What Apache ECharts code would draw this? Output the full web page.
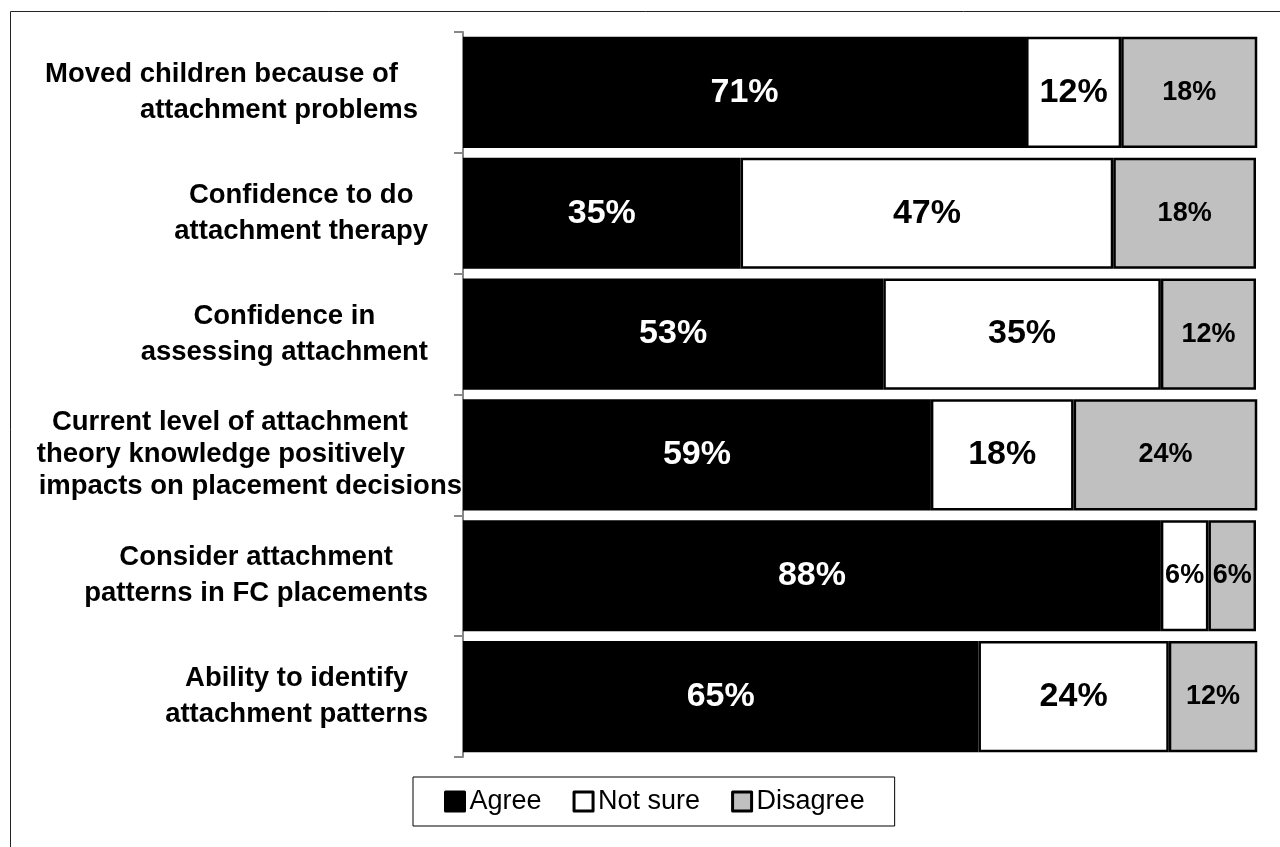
<!DOCTYPE html>
<html><head><meta charset="utf-8">
<script src="https://cdn.jsdelivr.net/npm/echarts@6/dist/echarts.min.js"></script>
<style>html,body{margin:0;padding:0;background:#fff}#c{width:1280px;height:847px}</style>
</head><body><div id="c"></div>
<script>
const categories = [
  'Moved children because of\nattachment problems',
  'Confidence to do\nattachment therapy',
  'Confidence in\nassessing attachment',
  'Current level of attachment\ntheory knowledge positively\nimpacts on placement decisions',
  'Consider attachment\npatterns in FC placements',
  'Ability to identify\nattachment patterns'
];
const agree = [71, 35, 53, 59, 88, 65];
const notSure = [12, 47, 35, 18, 6, 24];
const disagree = [18, 18, 12, 24, 6, 12];
const seriesNames = ['Agree', 'Not sure', 'Disagree'];

const FONT = '"Liberation Sans", Arial, sans-serif';
const base = { fontSize: 27.5, fontWeight: 'bold', color: '#000', fontFamily: FONT, lineHeight: 36 };
const rich = {
  c: Object.assign({}, base, { align: 'center', padding: [0, 34, 0, 0] }),
  r0a: Object.assign({}, base, { align: 'right', padding: [0, 64, 0, 0] }),
  r0b: Object.assign({}, base, { align: 'right', padding: [0, 44, 0, 0] }),
  r3a: Object.assign({}, base, { align: 'right', lineHeight: 32, padding: [0, 54, 0, 0] }),
  r3b: Object.assign({}, base, { align: 'right', lineHeight: 32, padding: [0, 57, 0, 0] }),
  r3c: Object.assign({}, base, { align: 'right', lineHeight: 32, padding: [0, 0, 0, 0] })
};
function fmtCat(value, index) {
  const lines = String(value).split('\n');
  return lines.map((l, j) => {
    let st = 'c';
    if (index === 0) st = j === 0 ? 'r0a' : 'r0b';
    if (index === 3) st = ['r3a', 'r3b', 'r3c'][j];
    return '{' + st + '|' + l + '}';
  }).join('\n');
}

function mkSeries(name, values, color, labelColor, fontSize, smallIdx) {
  return {
    name: name, type: 'bar', stack: 'total', barWidth: '92%', clip: true,
    itemStyle: { color: color, borderColor: '#000', borderWidth: 2.5 },
    label: {
      show: true, position: 'inside', formatter: '{c}%',
      color: labelColor, fontSize: fontSize, fontWeight: 'bold', fontFamily: FONT
    },
    data: values.map((v, i) => smallIdx.indexOf(i) >= 0 ? { value: v, label: { fontSize: 27 } } : v)
  };
}

const chart = echarts.init(document.getElementById('c'), null, { renderer: 'canvas' });
chart.setOption({
  backgroundColor: '#fff',
  animation: false,
  graphic: [{
    type: 'rect', silent: true, z: -10,
    shape: { x: 10.5, y: 11.5, width: 1400, height: 1000 },
    style: { fill: 'none', stroke: '#222', lineWidth: 1 }
  }],
  grid: { left: 463, right: 24, top: 32, bottom: 90, containLabel: false, outerBoundsMode: 'none' },
  legend: {
    data: seriesNames, left: 413, top: 777, orient: 'horizontal',
    itemWidth: 19, itemHeight: 19, itemGap: 31, icon: 'rect',
    itemStyle: { borderColor: '#000', borderWidth: 3, borderJoin: 'round' },
    borderColor: '#000', borderWidth: 1, padding: [10, 30, 10, 31],
    textStyle: { fontSize: 27, color: '#000', fontFamily: FONT, lineHeight: 29 }
  },
  xAxis: { type: 'value', min: 0, max: 100, show: false },
  yAxis: {
    type: 'category', inverse: true, data: categories,
    axisLine: { show: true, lineStyle: { color: '#888', width: 2 } },
    axisTick: { show: true, length: 9, inside: false, lineStyle: { color: '#888', width: 2 } },
    axisLabel: { margin: 1, align: 'right', formatter: fmtCat, rich: rich, fontSize: 27.5, fontWeight: 'bold', color: '#000', fontFamily: FONT },
    splitLine: { show: false }
  },
  series: [
    mkSeries('Agree', agree, '#000', '#fff', 34, []),
    mkSeries('Not sure', notSure, '#fff', '#000', 34, [4]),
    mkSeries('Disagree', disagree, '#c0c0c0', '#000', 27, [])
  ]
});
</script></body></html>
